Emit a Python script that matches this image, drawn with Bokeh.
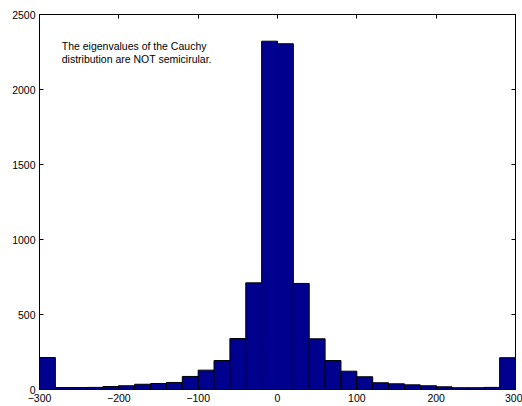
from bokeh.plotting import figure
from bokeh.models import LinearAxis, FixedTicker, Label, Range1d
from bokeh.embed import file_html
from bokeh.resources import INLINE

bin_centers = [-290, -270, -250, -230, -210, -190, -170, -150, -130, -110,
               -90, -70, -50, -30, -10, 10, 30, 50, 70, 90,
               110, 130, 150, 170, 190, 210, 230, 250, 270, 290]
counts = [213, 13, 13, 14, 20, 25, 35, 40, 47, 87,
          129, 193, 340, 711, 2322, 2305, 707, 338, 193, 122,
          85, 45, 38, 31, 25, 18, 12, 12, 14, 212]
bin_width = 20
x_ticks = [-300, -200, -100, 0, 100, 200, 300]
x_tick_labels = ["\u2212300", "\u2212200", "\u2212100", "0", "100", "200", "300"]
y_ticks = [0, 500, 1000, 1500, 2000, 2500]
note_lines = ["The eigenvalues of the Cauchy", "distribution are NOT semicirular."]

FONT = "Liberation Sans"

p = figure(width=522, height=406, output_backend="svg", toolbar_location=None,
           x_range=Range1d(-300, 300), y_range=Range1d(0, 2500),
           min_border_left=39, min_border_right=7, min_border_top=14, min_border_bottom=17,
           frame_width=476, frame_height=375)
p.background_fill_color = "white"
p.border_fill_color = "white"
p.outline_line_color = "black"
p.outline_line_width = 1
p.xgrid.visible = False
p.ygrid.visible = False

p.vbar(x=bin_centers, width=bin_width, top=counts, bottom=0,
       fill_color="#00008F", line_color="black", line_width=1)

def style(ax, standoff=3):
    ax.axis_line_color = "black"
    ax.major_tick_in = 4
    ax.major_tick_out = 0
    ax.minor_tick_line_color = None
    ax.major_tick_line_color = "black"
    ax.major_label_text_font = FONT
    ax.major_label_text_font_size = "10.5px"
    ax.major_label_text_color = "black"
    ax.major_label_standoff = standoff

p.xaxis.ticker = FixedTicker(ticks=x_ticks)
p.xaxis.major_label_overrides = {t: l for t, l in zip(x_ticks, x_tick_labels)}
p.yaxis.ticker = FixedTicker(ticks=y_ticks)
style(p.xaxis[0], standoff=4)
style(p.yaxis[0], standoff=4)

top_ax = LinearAxis(ticker=FixedTicker(ticks=x_ticks),
                    major_label_overrides={t: "" for t in x_ticks})
style(top_ax, standoff=0)
p.add_layout(top_ax, "above")
right_ax = LinearAxis(ticker=FixedTicker(ticks=y_ticks),
                      major_label_overrides={t: "" for t in y_ticks})
style(right_ax, standoff=0)
p.add_layout(right_ax, "right")

for i, line in enumerate(note_lines):
    p.add_layout(Label(x=-272, y=2290 - i * 85, text=line,
                       text_font=FONT, text_font_size="10.5px",
                       text_color="black", text_baseline="alphabetic"))

open("out.html", "w").write(file_html(p, INLINE))
